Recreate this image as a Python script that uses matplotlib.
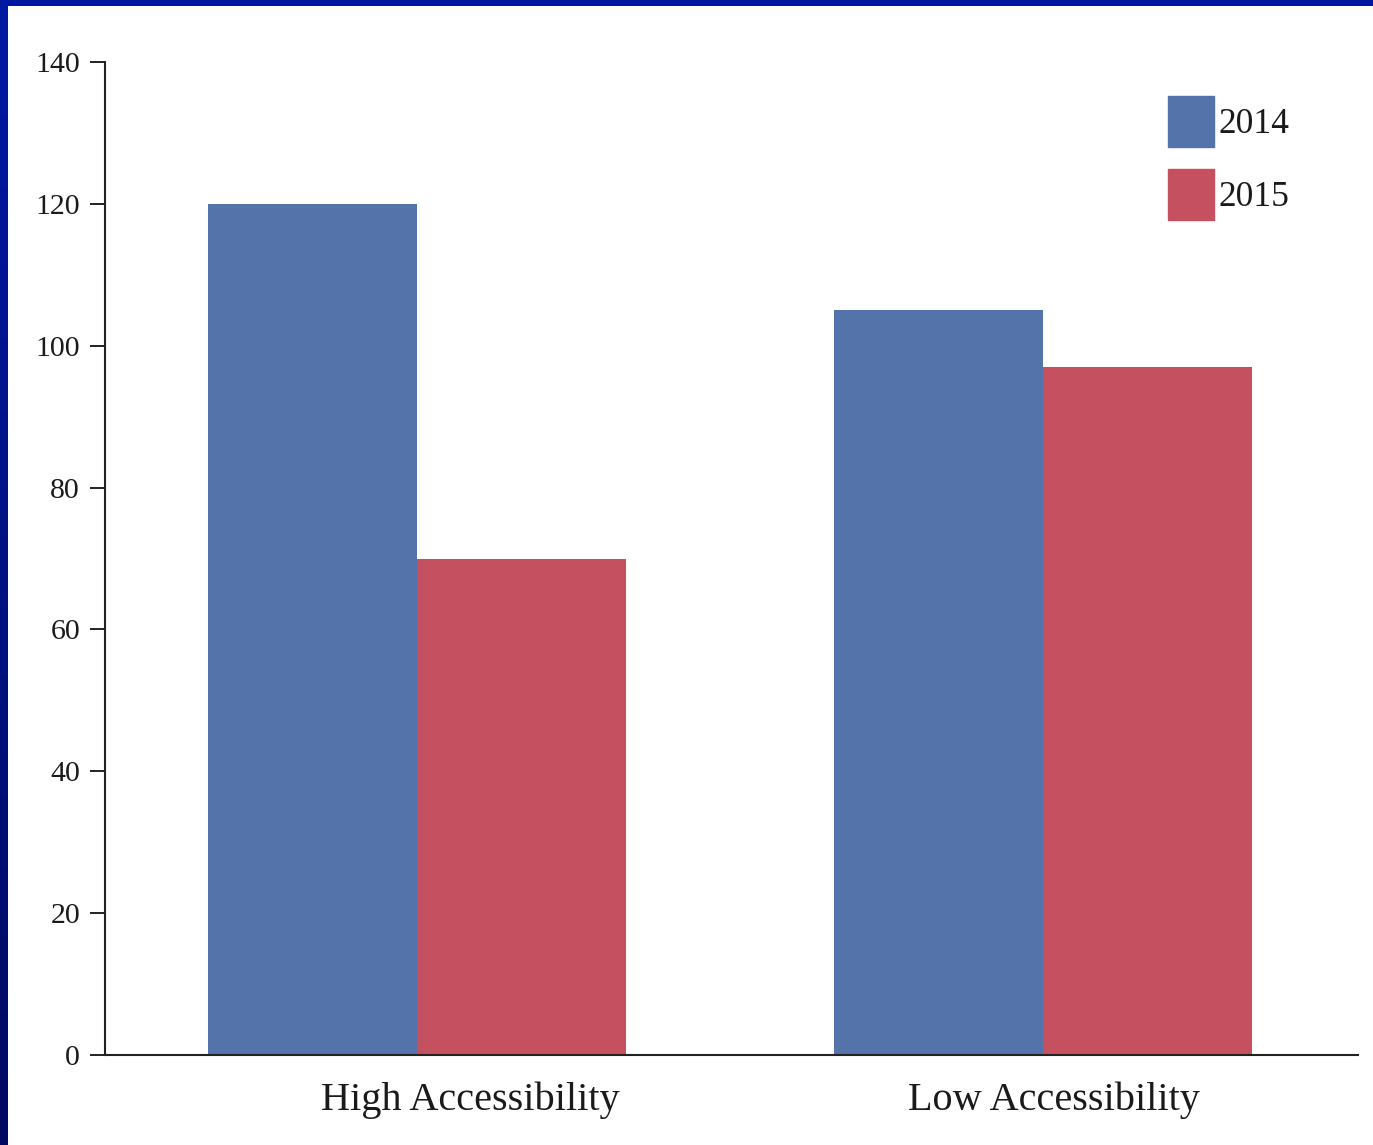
import numpy as np
import matplotlib
matplotlib.use("Agg")
import matplotlib.pyplot as plt
from matplotlib.patches import Patch, Rectangle

categories = ["High Accessibility", "Low Accessibility"]
series = ["2014", "2015"]
values_2014 = [120, 105]
values_2015 = [70, 97]
colors = ["#5373aa", "#c55160"]
yticks = [0, 20, 40, 60, 80, 100, 120, 140]

plt.rcParams["font.family"] = ["Liberation Serif", "DejaVu Serif"]

W, H = 1373, 1145
fig = plt.figure(figsize=(W / 100, H / 100), dpi=100)

# dark blue slide frame with a vertical gradient
bg = fig.add_axes([0, 0, 1, 1], zorder=-10)
grad = np.linspace(0, 1, 256).reshape(-1, 1)
top_col = np.array([0.0, 0.10, 0.64])
bot_col = np.array([0.0, 0.04, 0.38])
img = top_col[None, None, :] * (1 - grad[:, :, None]) + bot_col[None, None, :] * grad[:, :, None]
bg.imshow(img, aspect="auto", extent=[0, 1, 0, 1])
bg.add_patch(Rectangle((8 / W, 0), 1, 1 - 6 / H, color="white", lw=0))
bg.set_xlim(0, 1)
bg.set_ylim(0, 1)
bg.axis("off")

ax = fig.add_axes([105 / W, (H - 1055) / H, (1358 - 105) / W, (1055 - 62) / H])
ax.set_facecolor("none")

x = np.arange(len(categories))
width = 1 / 3
ax.bar(x - width / 2, values_2014, width, color=colors[0], label=series[0])
ax.bar(x + width / 2, values_2015, width, color=colors[1], label=series[1])

ax.set_xlim(-0.498, 1.503)
ax.set_ylim(0, 140)
ax.set_yticks(yticks)
ax.set_yticklabels([str(v) for v in yticks], fontsize=21.5)
ax.set_xticks([0.085, 1.018])
ax.set_xticklabels(categories, fontsize=29)
ax.tick_params(axis="x", length=0, pad=19)
ax.tick_params(axis="y", length=11, width=1.4, pad=7, color="#222222", labelcolor="#1a1a1a")
ax.tick_params(axis="x", labelcolor="#1a1a1a")

for s in ["top", "right"]:
    ax.spines[s].set_visible(False)
for s in ["left", "bottom"]:
    ax.spines[s].set_linewidth(1.5)
    ax.spines[s].set_color("#222222")

handles = [Patch(color=c, label=l) for c, l in zip(colors, series)]
ax.legend(handles=handles, loc="upper left", bbox_to_anchor=(0.848, 0.966),
          frameon=False, fontsize=25.5, handlelength=1.31, handleheight=1.84,
          handletextpad=0.13, labelspacing=0.62, borderpad=0, borderaxespad=0,
          labelcolor="#1a1a1a")

fig.savefig("out.png", dpi=100)
plt.close(fig)
